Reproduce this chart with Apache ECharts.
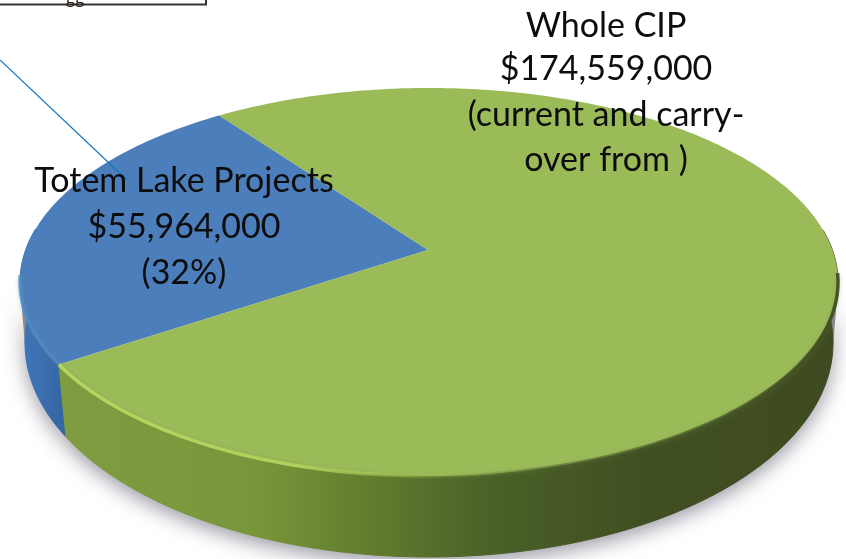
<!DOCTYPE html>
<html>
<head>
<meta charset="utf-8">
<style>
  html, body { margin: 0; padding: 0; background: #fff; }
  #chart { width: 846px; height: 559px; }
</style>
</head>
<body>
<div id="chart"></div>
<script src="https://cdn.jsdelivr.net/npm/echarts@6/dist/echarts.min.js"></script>
<script>
const categories = ['Totem Lake Projects', 'Whole CIP'];
const values = [55964000, 174559000];
const totemLabel = ['Totem Lake Projects', '$55,964,000', '(32%)'];
const wholeLabel = ['Whole CIP', '$174,559,000', '(current and carry-', 'over from )'];

// ellipse of the top face, apex sits above its centre because of the perspective
const topFace = { cx: 429, cy: 282, rx: 409, ry: 194, apexLift: 32 };
const bottomFace = { cx: 429, cy: 343, rx: 404, ry: 214, apexLift: 32 };
const startAngle = 213.5;
const total = values.reduce((a, b) => a + b, 0);

// unit circle -> ellipse, keeps the centre of the circle on the apex
function project(e, deg) {
  const u = Math.cos(deg * Math.PI / 180);
  const v = Math.sin(deg * Math.PI / 180);
  const k = e.apexLift / e.ry;
  const w = 1 + k * v;
  return [
    e.cx + e.rx * Math.sqrt(1 - k * k) * u / w,
    e.cy + (-e.ry * v - e.apexLift) / w
  ];
}

function hGradient(x1, x2, stops) {
  return {
    type: 'linear', global: true, x: x1, y: 0, x2: x2, y2: 0,
    colorStops: stops.map(s => ({ offset: s[0], color: s[1] }))
  };
}

const faceColors = ['#4c7ebb', '#9bbb59'];
const wallColors = [
  hGradient(20, 66, [[0, '#3f77bb'], [1, '#3565a2']]),
  hGradient(62, 836, [[0, '#7f9d40'], [0.25, '#7a963a'], [0.38, '#64802f'], [0.55, '#4b6128'], [0.75, '#404f21'], [1, '#3e4b20']])
];
const rimColors = [
  hGradient(20, 66, [[0, 'rgba(78,140,214,0.8)'], [1, 'rgba(78,140,214,0.6)']]),
  hGradient(62, 836, [[0, '#b4d560'], [0.3, '#afd05a'], [0.5, 'rgba(160,190,80,0.25)'], [0.62, 'rgba(70,90,40,0.5)'], [1, 'rgba(62,75,32,0.9)']])
];

function wallOf(angles) {
  const upper = angles.map(a => project(topFace, a));
  const lower = angles.map(a => project(bottomFace, a));
  return upper.concat(lower.reverse());
}

function renderSlice(params, api) {
  const i = params.dataIndex;
  let before = 0;
  for (let j = 0; j < i; j++) before += values[j];
  const from = startAngle - before / total * 360;
  const to = from - api.value(0) / total * 360;

  const angles = [];
  for (let a = from; a > to; a -= 1) angles.push(a);
  angles.push(to);

  // only the part of the rim facing the viewer gets a wall
  const below = limit => angles.filter(a => Math.sin(a * Math.PI / 180) < limit);
  const apex = project(topFace, 0).map((p, n) => n === 0 ? topFace.cx - 1 : topFace.cy - topFace.apexLift);

  return {
    type: 'group',
    children: [
      {
        type: 'polygon',
        z2: 0,
        shape: { points: wallOf(below(-0.2)) },
        style: {
          fill: '#8a8a90',
          shadowBlur: 20,
          shadowColor: 'rgba(70,65,85,0.55)',
          shadowOffsetY: 6
        }
      },
      {
        type: 'polygon',
        z2: 1,
        shape: { points: wallOf(below(0.12)) },
        style: { fill: wallColors[i], stroke: wallColors[i], lineWidth: 1 }
      },
      {
        type: 'polygon',
        z2: 2,
        shape: { points: [apex].concat(angles.map(a => project(topFace, a))) },
        style: { fill: faceColors[i] }
      },
      {
        type: 'polyline',
        z2: 3,
        shape: { points: below(-0.12).map(a => project(topFace, a)) },
        style: { fill: null, stroke: rimColors[i], lineWidth: 3.5, shadowBlur: 4, shadowColor: 'rgba(120,140,70,0.4)' }
      }
    ]
  };
}

function textLines(lines, x, ys) {
  return lines.map((t, n) => ({
    type: 'text',
    z: 20,
    x: x,
    y: ys[n],
    style: {
      text: t,
      fill: '#0d0d0d',
      font: '34px Lato, sans-serif',
      align: 'center',
      verticalAlign: 'middle'
    }
  }));
}

const chart = echarts.init(document.getElementById('chart'), null, { renderer: 'canvas' });
chart.setOption({
  animation: false,
  backgroundColor: '#ffffff',
  series: [{
    type: 'custom',
    name: 'CIP',
    coordinateSystem: 'none',
    renderItem: renderSlice,
    data: categories.map((c, i) => ({ name: c, value: [values[i]] }))
  }],
  graphic: [
    {
      type: 'polyline', z: 15,
      shape: { points: [[0, 60], [127, 180]] },
      style: { stroke: '#1278c0', lineWidth: 1.2, fill: null }
    },
    {
      type: 'polyline', z: 15,
      shape: { points: [[0, 4.5], [206, 4.5], [206, 0]] },
      style: { stroke: '#333333', lineWidth: 2, fill: null }
    },
    {
      type: 'text', z: 15, x: 75, y: -11,
      style: { text: 'gg', fill: '#2f2015', font: '18px Lato, sans-serif', align: 'center', verticalAlign: 'top' }
    }
  ].concat(
    textLines(totemLabel, 184, [181, 227, 273]),
    textLines(wholeLabel, 606, [26, 69, 115, 160])
  )
});
</script>
</body>
</html>
